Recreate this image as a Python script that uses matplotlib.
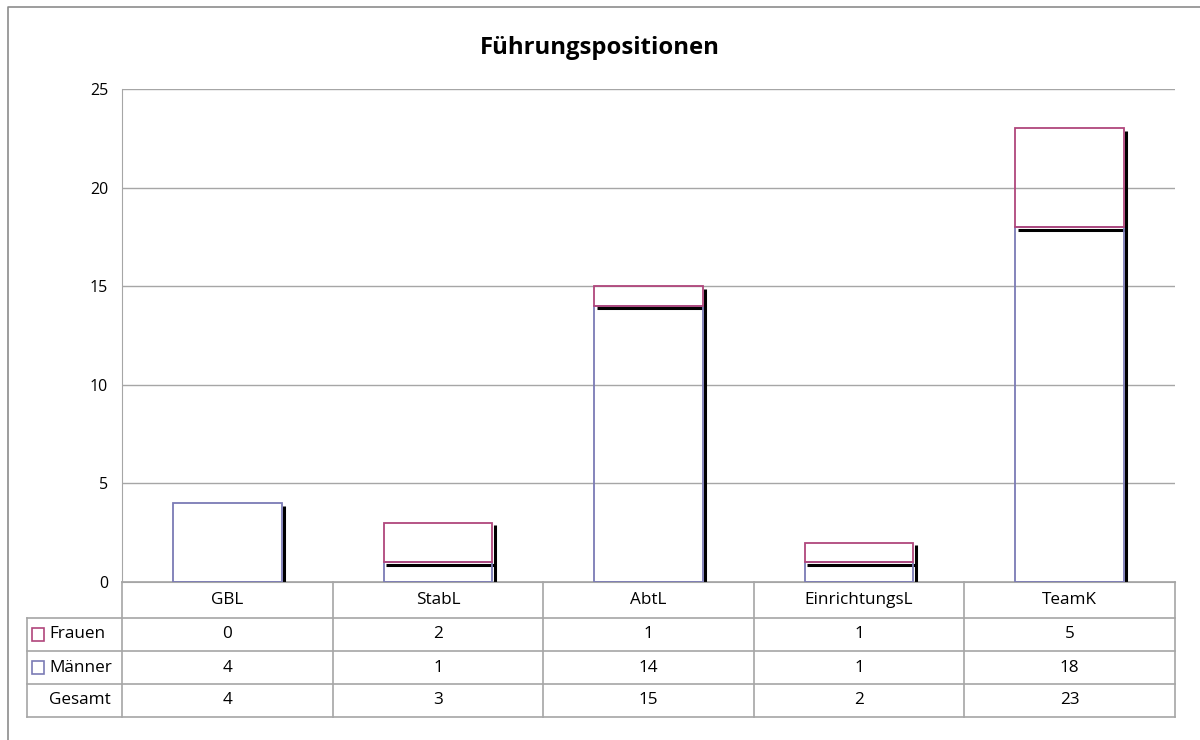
import matplotlib
matplotlib.use("Agg")
import matplotlib.pyplot as plt
import matplotlib.transforms as mtransforms
from matplotlib.patches import Rectangle

plt.rcParams['font.family'] = ['Open Sans', 'DejaVu Sans']

categories = ["GBL", "StabL", "AbtL", "EinrichtungsL", "TeamK"]
frauen = [0, 2, 1, 1, 5]
maenner = [4, 1, 14, 1, 18]
gesamt = [f + m for f, m in zip(frauen, maenner)]
yticks = [0, 5, 10, 15, 20, 25]

MAENNER_COLOR = "#7B7BB5"
FRAUEN_COLOR = "#B0467C"
GRID_COLOR = "#A6A6A6"

W, H = 1200, 740
PLOT_L, PLOT_R, PLOT_T, PLOT_B = 122, 1175, 89, 582
TAB_L = 27
ROW_Y = [582, 618, 651, 684, 717]


def main():
    fig = plt.figure(figsize=(W / 100, H / 100), dpi=100)

    # overlay for frame + table, pixel coordinates
    tax = fig.add_axes([0, 0, 1, 1])
    tax.set_xlim(0, W)
    tax.set_ylim(H, 0)
    tax.axis("off")
    # only the left and top edge of the chart frame are inside the picture
    tax.plot([8, 8, W], [H, 7, 7], color="#8C8C8C", lw=1.2)

    ax = fig.add_axes([PLOT_L / W, (H - PLOT_B) / H, (PLOT_R - PLOT_L) / W, (PLOT_B - PLOT_T) / H])
    ax.set_xlim(-0.5, len(categories) - 0.5)
    ax.set_ylim(0, 25)
    ax.set_yticks(yticks)
    ax.set_xticks([])
    ax.tick_params(axis="y", length=0, pad=10, labelsize=11.5, colors="black")
    for s in ["top", "right"]:
        ax.spines[s].set_visible(False)
    ax.spines["left"].set_color(GRID_COLOR)
    ax.spines["bottom"].set_color(GRID_COLOR)
    ax.yaxis.grid(True, color=GRID_COLOR, lw=1.0)
    ax.set_axisbelow(True)
    ax.patch.set_alpha(0)

    # drop shadow: right and bottom edges shifted down-right
    shadow = ax.transData + mtransforms.ScaledTranslation(2.5 / 100, -2.5 / 100, fig.dpi_scale_trans)
    width = 0.515
    for i, cat in enumerate(categories):
        x0 = i - width / 2
        x1 = i + width / 2
        segs = [(0, maenner[i], MAENNER_COLOR), (maenner[i], frauen[i], FRAUEN_COLOR)]
        for bottom, h, col in segs:
            if h == 0:
                continue
            top = bottom + h
            ax.plot([x0, x1, x1], [bottom, bottom, top], color="black", lw=2.2,
                    solid_capstyle="butt", transform=shadow, zorder=2)
        for bottom, h, col in segs:
            if h == 0:
                continue
            ax.add_patch(Rectangle((x0, bottom), width, h, fill=False, ec=col, lw=1.3, zorder=3))

    fig.text(0.5, 1 - 48 / H, "Führungspositionen", ha="center", va="center",
             fontsize=17.2, fontweight="bold")

    # data table
    n = len(categories)
    colw = (PLOT_R - PLOT_L) / n
    lc = GRID_COLOR
    tax.plot([PLOT_L, PLOT_R], [ROW_Y[0], ROW_Y[0]], color=lc, lw=1.2)
    for y in ROW_Y[1:]:
        tax.plot([TAB_L, PLOT_R], [y, y], color=lc, lw=1.2)
    for k in range(n + 1):
        xk = PLOT_L + k * colw
        tax.plot([xk, xk], [ROW_Y[0], ROW_Y[-1]], color=lc, lw=1.2)
    tax.plot([TAB_L, TAB_L], [ROW_Y[1], ROW_Y[-1]], color=lc, lw=1.2)

    fs = 12.3
    rows = [("Frauen", frauen, FRAUEN_COLOR), ("Männer", maenner, MAENNER_COLOR), ("Gesamt", gesamt, None)]
    for k, cat in enumerate(categories):
        xc = PLOT_L + (k + 0.5) * colw
        tax.text(xc, (ROW_Y[0] + ROW_Y[1]) / 2, cat, ha="center", va="center", fontsize=fs)
    for r, (label, vals, col) in enumerate(rows):
        yc = (ROW_Y[r + 1] + ROW_Y[r + 2]) / 2
        if col is not None:
            tax.add_patch(Rectangle((32, yc - 6.5), 12, 13, fill=False, ec=col, lw=1.2))
        tax.text(49, yc, label, ha="left", va="center", fontsize=fs)
        for k, v in enumerate(vals):
            xc = PLOT_L + (k + 0.5) * colw
            tax.text(xc, yc, str(v), ha="center", va="center", fontsize=fs)

    fig.savefig("out.png", dpi=100)


if __name__ == "__main__":
    main()
